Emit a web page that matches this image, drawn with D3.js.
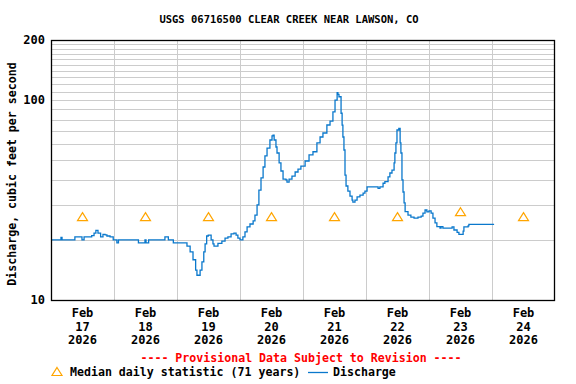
<!DOCTYPE html>
<html>
<head>
    <title>USGS 06716500 Clear Creek near Lawson</title>
    <script src="https://d3js.org/d3.v7.min.js"></script>
    <style>
      body { margin: 0; background: #fff; }
    </style>
</head>
<body>
    <div id="chart"></div>
    <script>

// discharge readings, [hours since 2026-02-17 00:00, cfs]
const discharge = [
  [0, 20.0], [3.4, 20.0], [3.8, 20.6], [4.2, 20.0], [9.1, 20.7], [11.8, 20.0], [12.6, 20.7],
  [15.5, 21.0], [16.4, 21.6], [17.1, 22.3], [17.9, 21.6], [18.9, 20.7], [19.8, 21.3],
  [20.6, 21.2], [21.3, 20.9], [22.5, 20.7], [23.7, 20.0], [25.1, 19.3], [25.7, 20.0],
  [33.3, 19.3], [35.8, 20.0], [36.2, 19.3], [37.2, 20.0], [43.4, 20.7], [44.7, 20.0],
  [46.6, 19.3], [51.3, 19.3], [51.8, 18.6], [53.0, 17.4], [54.1, 15.9], [55.1, 14.1],
  [55.6, 13.3], [56.5, 13.3], [56.8, 14.1], [57.5, 15.5], [58.2, 17.4], [58.7, 19.1],
  [59.3, 20.9], [59.9, 21.1], [61.0, 20.0], [61.7, 19.1], [62.1, 18.6], [63.2, 18.6],
  [63.6, 19.2], [65.1, 19.7], [66.3, 20.4], [67.4, 20.7], [68.6, 21.4], [69.7, 21.6],
  [70.5, 21.1], [71.2, 20.4], [72.0, 20.0], [72.8, 20.0], [73.1, 20.7], [73.9, 21.9],
  [74.7, 23.2], [75.8, 24.0], [77.0, 24.9], [77.7, 26.6], [78.5, 29.9], [79.2, 35.5],
  [80.0, 40.8], [80.8, 46.3], [81.5, 52.6], [82.3, 57.6], [83.4, 63.2], [84.2, 66.2],
  [84.6, 66.9], [85.0, 63.2], [85.7, 58.3], [86.1, 54.4], [86.9, 48.5], [87.6, 44.2],
  [88.4, 40.3], [89.5, 39.9], [89.9, 38.9], [90.7, 40.3], [91.8, 41.7], [93.0, 43.7],
  [94.1, 45.2], [95.2, 46.8], [96.8, 49.6], [98.3, 53.2], [99.8, 55.2], [101.3, 61.1],
  [102.5, 65.4], [103.6, 68.5], [105.1, 75.1], [106.3, 78.6], [107.4, 87.3], [108.2, 100],
  [109.0, 109], [109.3, 107], [109.7, 104], [110.5, 86], [110.9, 75], [111.2, 65.4],
  [111.6, 56.3], [112.0, 42.2], [112.4, 37.2], [113.1, 35.1], [113.9, 33.1], [114.7, 31.6],
  [115.0, 30.9], [115.8, 31.6], [116.6, 32.8], [117.7, 33.5], [118.9, 34.3], [119.6, 35.1],
  [120.4, 36.8], [124.2, 36.8], [124.6, 36.2], [125.3, 36.8], [126.5, 38.4], [127.2, 39.1],
  [128.4, 41.3], [129.1, 43.2], [129.9, 44.7], [130.7, 48.5], [131.0, 54.4], [131.4, 61.1],
  [131.8, 70.9], [132.5, 72.2], [133.0, 61.1], [133.3, 54.4], [133.7, 39.9], [134.1, 34.7],
  [134.5, 30.6], [134.9, 27.7], [136.0, 26.6], [137.1, 26.0], [138.3, 25.7], [139.8, 26.0],
  [141.0, 26.3], [141.7, 27.2], [142.5, 28.2], [143.2, 27.6], [144.0, 27.9], [144.8, 27.2],
  [145.5, 25.7], [146.3, 24.3], [147.0, 23.3], [148.2, 22.9], [148.6, 23.3], [149.3, 22.9],
  [152.8, 23.2], [153.5, 22.4], [154.7, 21.8], [155.4, 21.3], [156.6, 21.3], [157.0, 22.1],
  [157.3, 23.2], [158.9, 23.5], [159.2, 23.9], [168.8, 23.9]
];

const tickDays = ["2026-02-17", "2026-02-18", "2026-02-19", "2026-02-20",
                  "2026-02-21", "2026-02-22", "2026-02-23", "2026-02-24"];
const medianDays = tickDays;
const medianValues = [26, 26, 26, 26, 26, 26, 27.5, 26];
const yLabels = [10, 100, 200];

const width = 576, height = 384;
const margin = {top: 40, right: 21, bottom: 84, left: 51};
const font = "'DejaVu Sans Mono', monospace";

const parse = d3.timeParse("%Y-%m-%d");
const start = parse("2026-02-17");
const end = parse("2026-02-25");
const series = discharge.map(([h, v]) => ({t: d3.timeMinute.offset(start, Math.round(h * 60)), v}));

const x = d3.scaleTime().domain([start, end]).range([margin.left, width - margin.right]);
const y = d3.scaleLog().domain([10, 200]).range([height - margin.bottom, margin.top]);

const svg = d3.create("svg")
    .attr("width", width)
    .attr("height", height)
    .attr("viewBox", [0, 0, width, height])
    .attr("font-family", font)
    .attr("font-weight", "bold");

svg.append("rect").attr("width", width).attr("height", height).attr("fill", "#fff");

// grid
const grid = svg.append("g").attr("stroke", "#cccccc").attr("stroke-width", 1);
grid.selectAll(".h")
  .data(d3.range(20, 200, 10))
  .join("line")
    .attr("x1", margin.left).attr("x2", width - margin.right)
    .attr("y1", d => Math.round(y(d)) + 0.5).attr("y2", d => Math.round(y(d)) + 0.5);
grid.selectAll(".v")
  .data(d3.timeDay.range(d3.timeDay.offset(start, 1), end))
  .join("line")
    .attr("y1", margin.top).attr("y2", height - margin.bottom)
    .attr("x1", d => Math.round(x(d)) + 0.5).attr("x2", d => Math.round(x(d)) + 0.5);

// discharge line
const line = d3.line()
    .curve(d3.curveStepAfter)
    .x(d => x(d.t))
    .y(d => y(d.v));

svg.append("path")
    .datum(series)
    .attr("fill", "none")
    .attr("stroke", "#0a78cc")
    .attr("stroke-width", 1.3)
    .attr("d", line);

// median triangles
const tri = "M0,-4.5L5,3.5L-5,3.5Z";
svg.append("g")
    .selectAll("path")
    .data(medianDays.map((d, i) => ({t: d3.timeHour.offset(parse(d), 12), v: medianValues[i]})))
    .join("path")
      .attr("transform", d => `translate(${x(d.t)},${y(d.v)})`)
      .attr("d", tri)
      .attr("fill", "none")
      .attr("stroke", "#ffa500")
      .attr("stroke-width", 1.2);

// frame
svg.append("rect")
    .attr("x", margin.left + 0.5).attr("y", margin.top + 0.5)
    .attr("width", width - margin.left - margin.right - 1)
    .attr("height", height - margin.top - margin.bottom)
    .attr("fill", "none")
    .attr("stroke", "#000")
    .attr("stroke-width", 1.3);

// y tick labels
svg.append("g")
    .attr("font-size", 12)
    .attr("text-anchor", "end")
  .selectAll("text")
  .data(yLabels)
  .join("text")
    .attr("x", margin.left - 6)
    .attr("y", d => y(d))
    .attr("dy", "0.35em")
    .text(d => d);

// x tick labels
const xt = svg.append("g")
    .attr("font-size", 12)
    .attr("text-anchor", "middle")
  .selectAll("text")
  .data(tickDays)
  .join("text")
    .attr("transform", d => `translate(${x(d3.timeHour.offset(parse(d), 12))},${height - margin.bottom + 17})`);
xt.selectAll("tspan")
  .data(d => [d3.timeFormat("%b")(parse(d)), d3.timeFormat("%-d")(parse(d)), d3.timeFormat("%Y")(parse(d))])
  .join("tspan")
    .attr("x", 0)
    .attr("y", (d, i) => i * 13.5)
    .text(d => d);

// title
svg.append("text")
    .attr("x", 289).attr("y", 23)
    .attr("text-anchor", "middle")
    .attr("font-size", 10.5)
    .text("USGS 06716500 CLEAR CREEK NEAR LAWSON, CO");

// y label
svg.append("text")
    .attr("transform", "translate(16,174) rotate(-90)")
    .attr("text-anchor", "middle")
    .attr("font-size", 11.6)
    .text("Discharge, cubic feet per second");

// provisional note
svg.append("text")
    .attr("x", 301).attr("y", 362)
    .attr("text-anchor", "middle")
    .attr("font-size", 11.6)
    .attr("fill", "red")
    .text("---- Provisional Data Subject to Revision ----");

// legend
const legend = svg.append("g").attr("font-size", 11.6);
legend.append("path")
    .attr("transform", "translate(57,372)")
    .attr("d", tri)
    .attr("fill", "none")
    .attr("stroke", "#ffa500")
    .attr("stroke-width", 1.2);
legend.append("text").attr("x", 70).attr("y", 376).text("Median daily statistic (71 years)");
legend.append("line")
    .attr("x1", 308).attr("x2", 328).attr("y1", 372.5).attr("y2", 372.5)
    .attr("stroke", "#0a78cc").attr("stroke-width", 1.3);
legend.append("text").attr("x", 333).attr("y", 376).text("Discharge");

document.getElementById('chart').appendChild(svg.node());

    </script>
</body>
</html>
